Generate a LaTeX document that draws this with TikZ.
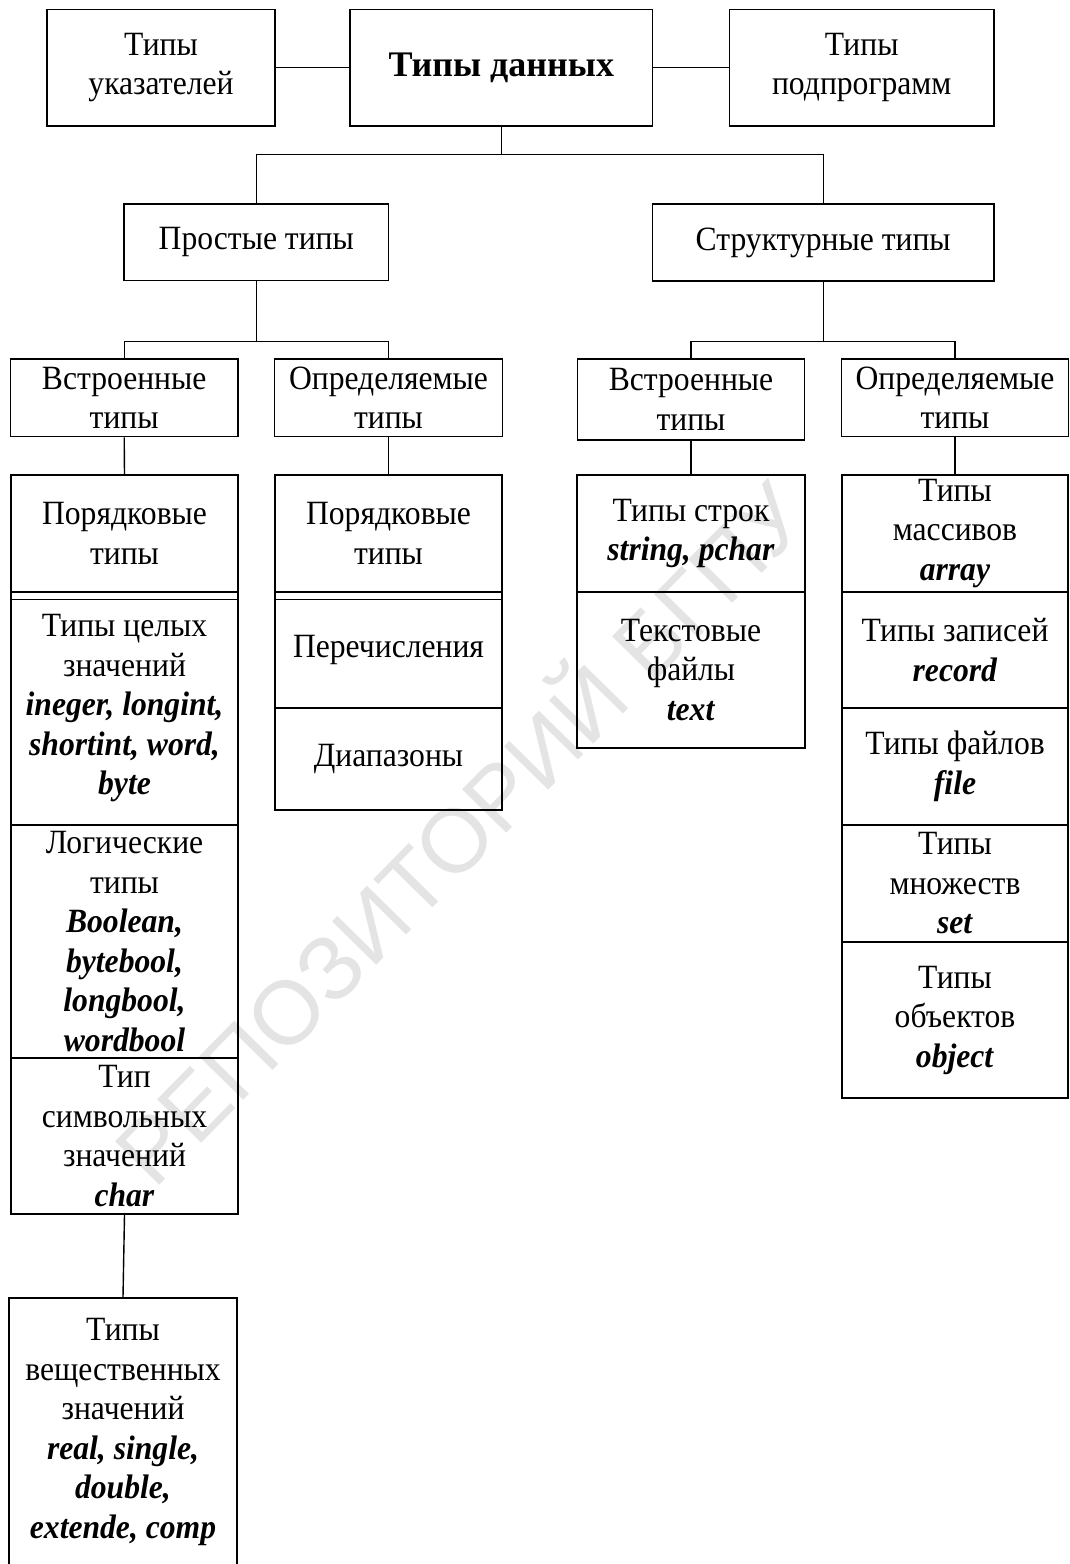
\documentclass[tikz,border=0pt]{standalone}
\usepackage{fontspec}
\setmainfont[FakeStretch=0.93]{Liberation Serif}
\newfontfamily\titlefont{Liberation Serif}
\newfontfamily\stampfont{Liberation Sans}
\definecolor{stampgray}{HTML}{E4E4E4}
\newcommand{\pkw}[1]{\textbf{\textit{#1}}}
\tikzset{
  typebox/.style={draw, line width=0.7pt, inner sep=0pt, align=center, font=\fontsize{17}{19.75}\selectfont},
  link/.style={line width=0.7pt}
}

\begin{document}
\begin{tikzpicture}[x=0.5pt, y=-0.5pt]
  \useasboundingbox (0,0) rectangle (1070,1564);
  \fill[white] (0,0) rectangle (1070,1564);
  \node[rotate=45.5, text=stampgray, font=\stampfont\fontsize{45}{45}\selectfont] (stamp) at (455,828) {РЕПОЗИТОРИЙ БГПУ};

  \node[typebox, minimum width=113.85pt, minimum height=58.35pt] (ptr) at (161,67.7) {Типы\\указателей};
  \node[typebox, minimum width=151.35pt, minimum height=58.35pt, font=\titlefont\bfseries\fontsize{18}{22}\selectfont] (main) at (501.3,67.7) {Типы данных};
  \node[typebox, minimum width=132.35pt, minimum height=58.35pt] (subprog) at (861.7,67.7) {Типы\\подпрограмм};
  \node[typebox, minimum width=132.35pt, minimum height=38.35pt] (simple) at (256.3,242.3) {Простые типы};
  \node[typebox, minimum width=170.85pt, minimum height=38.5pt] (struct) at (823.2,242.5) {Структурные типы};
  \node[typebox, minimum width=113.85pt, minimum height=38.85pt] (simplebuilt) at (124.2,397.8) {Встроенные\\типы};
  \node[typebox, minimum width=114.2pt, minimum height=38.85pt] (simpledef) at (388.5,397.8) {Определяемые\\типы};
  \node[typebox, minimum width=113.7pt, minimum height=40.5pt] (structbuilt) at (691,399.5) {Встроенные\\типы};
  \node[typebox, minimum width=113.7pt, minimum height=38.85pt] (structdef) at (955,397.8) {Определяемые\\типы};

  \node[typebox, minimum width=113.5pt, minimum height=58.5pt] (ord1) at (124.5,533.5) {Порядковые\\типы};
  \node[typebox, minimum width=113.5pt, minimum height=116.5pt] (int) at (124.5,708.5) {Типы целых\\значений\\\pkw{ineger, longint,}\\\pkw{shortint, word,}\\\pkw{byte}};
  \node[typebox, minimum width=113.5pt, minimum height=116.5pt] (bool) at (124.5,941.5) {Логические\\типы\\\pkw{Boolean,}\\\pkw{bytebool,}\\\pkw{longbool,}\\\pkw{wordbool}};
  \node[typebox, minimum width=113.5pt, minimum height=78pt] (chr) at (124.5,1136) {Тип\\символьных\\значений\\\pkw{char}};
  \node[typebox, minimum width=114pt, minimum height=134pt] (real) at (123,1432) {Типы\\вещественных\\значений\\\pkw{real, single,}\\\pkw{double,}\\\pkw{extende, comp}};

  \node[typebox, minimum width=113.5pt, minimum height=58.5pt] (ord2) at (388.5,533.5) {Порядковые\\типы};
  \node[typebox, minimum width=113.5pt, minimum height=58pt] (enum) at (388.5,650) {Перечисления};
  \node[typebox, minimum width=113.5pt, minimum height=51pt] (range) at (388.5,759) {Диапазоны};

  \node[typebox, minimum width=114pt, minimum height=58.5pt] (strs) at (691,533.5) {Типы строк\\\pkw{string, pchar}};
  \node[typebox, minimum width=114pt, minimum height=78pt] (txt) at (691,670) {Текстовые\\файлы\\\pkw{text}};

  \node[typebox, minimum width=113pt, minimum height=58.5pt] (arr) at (955,533.5) {Типы\\массивов\\\pkw{array}};
  \node[typebox, minimum width=113pt, minimum height=58pt] (rec) at (955,650) {Типы записей\\\pkw{record}};
  \node[typebox, minimum width=113pt, minimum height=58.5pt] (fil) at (955,766.5) {Типы файлов\\\pkw{file}};
  \node[typebox, minimum width=113pt, minimum height=58.5pt] (sets) at (955,883.5) {Типы\\множеств\\\pkw{set}};
  \node[typebox, minimum width=113pt, minimum height=78pt] (obj) at (955,1020) {Типы\\объектов\\\pkw{object}};

  \draw[link] (ptr.east) -- (main.west);
  \draw[link] (main.east) -- (subprog.west);
  \draw[link] (main.south) -- ++(0,27.5) coordinate (fork);
  \draw[link] (fork) -| (simple.north);
  \draw[link] (fork) -| (struct.north);
  \draw[link] (simple.south) -- ++(0,60) coordinate (forksimple);
  \draw[link] (forksimple) -| (simplebuilt.north);
  \draw[link] (forksimple) -| (simpledef.north);
  \draw[link] (struct.south) -- ++(0,60) coordinate (forkstruct);
  \draw[link] (forkstruct) -| (structbuilt.north);
  \draw[link] (forkstruct) -| (structdef.north);
  \draw[link] (simplebuilt.south) -- (ord1.north);
  \draw[link] (simpledef.south) -- (ord2.north);
  \draw[link] (structbuilt.south) -- (strs.north);
  \draw[link] (structdef.south) -- (arr.north);
  \draw[link] (chr.south) -- (real.north);
  \draw[link] ([yshift=-4pt]int.north west) -- ([yshift=-4pt]int.north east);
  \draw[link] ([yshift=-4pt]enum.north west) -- ([yshift=-4pt]enum.north east);
\end{tikzpicture}
\end{document}
